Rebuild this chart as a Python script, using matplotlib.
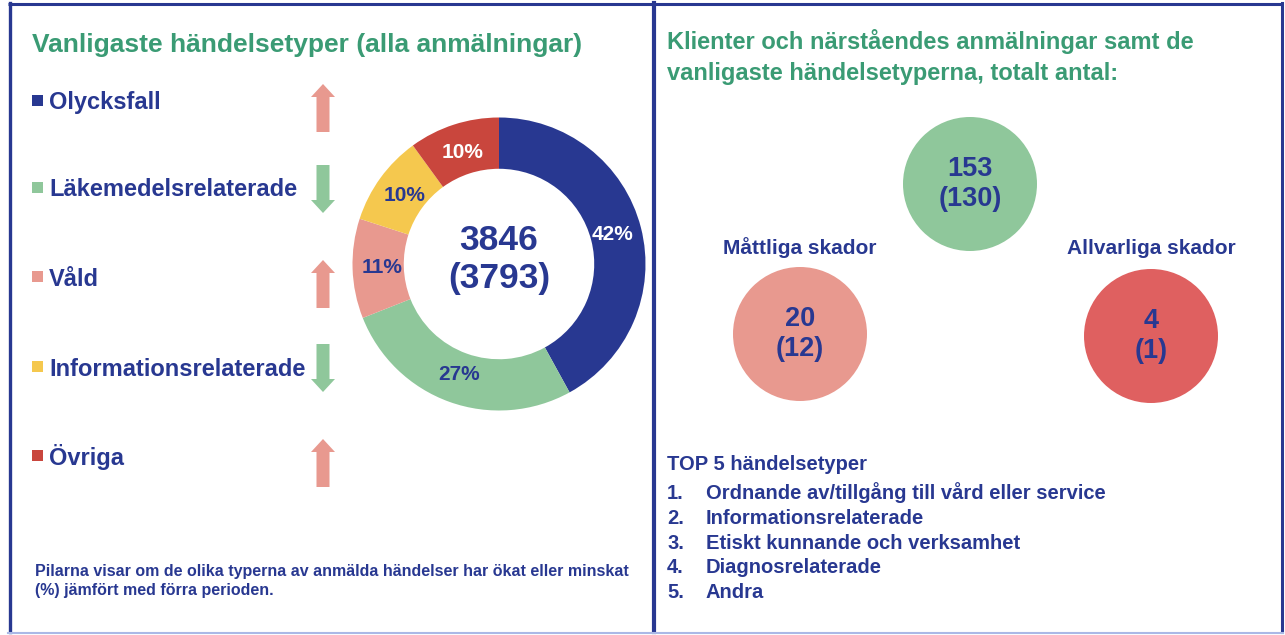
import matplotlib.pyplot as plt
from matplotlib.patches import Circle, FancyArrow, Rectangle

NAVY = '#283891'
GREEN_TXT = '#3a9b74'

# --- data ---
categories = ['Olycksfall', 'Läkemedelsrelaterade', 'Våld',
              'Informationsrelaterade', 'Övriga']
shares = [42, 27, 11, 10, 10]
trend = ['up', 'down', 'up', 'down', 'up']
cat_colors = ['#283891', '#8fc79b', '#e8998f', '#f5c84e', '#c9463d']
pct_text_colors = ['white', NAVY, NAVY, NAVY, 'white']
total_now, total_prev = 3846, 3793

bubble_labels = ['', 'Måttliga skador', 'Allvarliga skador']
bubble_now = [153, 20, 4]
bubble_prev = [130, 12, 1]
bubble_colors = ['#8fc79b', '#e8998f', '#df6060']

top5 = ['Ordnande av/tillgång till vård eller service',
        'Informationsrelaterade',
        'Etiskt kunnande och verksamhet',
        'Diagnosrelaterade',
        'Andra']

plt.rcParams['font.family'] = ['Liberation Sans', 'DejaVu Sans']
plt.rcParams['font.weight'] = 'bold'

W, H = 1285, 635
fig = plt.figure(figsize=(W / 100, H / 100), dpi=100)
bg = fig.add_axes([0, 0, 1, 1])
bg.set_xlim(0, W)
bg.set_ylim(H, 0)
bg.axis('off')

# frame lines
bg.plot([8, 1283], [4, 4], color=NAVY, lw=2.2, solid_capstyle='butt')
bg.plot([9.5, 9.5], [3, 632], color=NAVY, lw=2.4)
bg.plot([654, 654], [3, 632], color=NAVY, lw=3)
bg.plot([1282, 1282], [3, 632], color=NAVY, lw=2.2)
bg.plot([8, 1283], [633, 633], color='#aab8e6', lw=1.5)

# ---- left panel ----
bg.text(32, 52, 'Vanligaste händelsetyper (alla anmälningar)', color=GREEN_TXT,
        fontsize=19, va='baseline', ha='left')

leg_y = [101, 188, 277, 367, 456]
for y, name, col, tr in zip(leg_y, categories, cat_colors, trend):
    bg.add_patch(Rectangle((32, y - 6), 11, 11, color=col, lw=0))
    bg.text(49, y + 8.5, name, color=NAVY, fontsize=17, va='baseline', ha='left')
    if tr == 'up':
        bg.add_patch(FancyArrow(323, y + 31, 0, -48, width=13, head_width=24,
                                head_length=13, length_includes_head=True,
                                color='#e8998f', lw=0))
    else:
        bg.add_patch(FancyArrow(323, y - 23, 0, 48, width=13, head_width=24,
                                head_length=13, length_includes_head=True,
                                color='#8fc79b', lw=0))

bg.text(35, 581, 'Pilarna visar om de olika typerna av anmälda händelser har ökat eller minskat\n'
        '(%) jämfört med förra perioden.', color=NAVY, fontsize=11.5,
        va='center', ha='left', linespacing=1.3)

# donut
cx, cy, r = 499, 264, 146.5
dax = fig.add_axes([(cx - r) / W, (H - cy - r) / H, 2 * r / W, 2 * r / H])
wedges, _, autotexts = dax.pie(shares, colors=cat_colors, startangle=90,
                               counterclock=False, radius=1,
                               wedgeprops=dict(width=0.35, linewidth=0),
                               autopct='%d%%', pctdistance=0.8,
                               textprops=dict(fontsize=15, fontweight='bold'))
for t, c in zip(autotexts, pct_text_colors):
    t.set_color(c)
dax.set_xlim(-1, 1)
dax.set_ylim(-1, 1)
dax.set_aspect('equal')
dax.axis('off')
dax.text(0, 0.03, f'{total_now}\n({total_prev})', ha='center', va='center',
         color=NAVY, fontsize=25.5, linespacing=1.2)

# ---- right panel ----
bg.text(667, 57, 'Klienter och närståendes anmälningar samt de\n'
        'vanligaste händelsetyperna, totalt antal:', color=GREEN_TXT,
        fontsize=17, va='center', ha='left', linespacing=1.4)

bubble_xy = [(970, 184), (800, 334), (1151, 336)]
for (bx, by), lab, n, p, col in zip(bubble_xy, bubble_labels, bubble_now,
                                   bubble_prev, bubble_colors):
    bg.add_patch(Circle((bx, by), 67, color=col, lw=0))
    bg.text(bx, by, f'{n}\n({p})', ha='center', va='center', color=NAVY,
            fontsize=19.5, linespacing=1.25)
    if lab:
        bg.text(bx, 248, lab, ha='center', va='center', color=NAVY, fontsize=15)

bg.text(667, 470, 'TOP 5 händelsetyper', color=NAVY, fontsize=14.5,
        va='baseline', ha='left')
for i, item in enumerate(top5):
    y = 492 + i * 24.8 + 7
    bg.text(667, y, f'{i + 1}.', color=NAVY, fontsize=14.5, va='baseline', ha='left')
    bg.text(706, y, item, color=NAVY, fontsize=14.5, va='baseline', ha='left')

fig.savefig('out.png', dpi=100, facecolor='white')
